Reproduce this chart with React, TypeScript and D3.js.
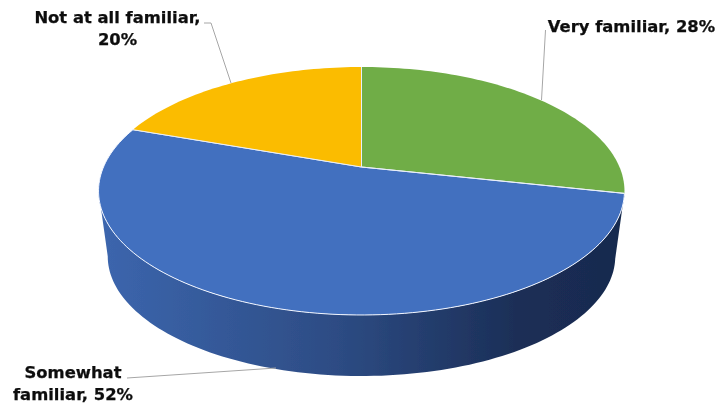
import React from "react";
import * as d3 from "d3";

const categories = ["Very familiar", "Somewhat familiar", "Not at all familiar"];
const values = [28.4, 52, 19.6];
const colors = ["#70AD47", "#4270BF", "#FBBC00"];
const labelLines = [["Very familiar, 28%"], ["Somewhat", "familiar, 52%"], ["Not at all familiar,", "20%"]];

const W = 717, H = 406;
const cx = 361.5, apexY = 167, A = 258, B = 119.35, K = -0.1935;
const wallScale = 0.965, wallApexY = 233.2;

const labelLayout = [
  { x: 631.5, y: 32, leader: [[545.5, 30], [541.5, 100]] },
  { x: 73, y: 378, leader: [[127, 378], [276, 368]] },
  { x: 117.5, y: 23, leader: [[204, 23], [211, 23], [231, 83]] },
];

function project(theta: number, scale = 1, y0 = apexY): [number, number] {
  const u = Math.sin(theta), v = -Math.cos(theta);
  const d = 1 + K * v;
  return [cx + (scale * A * u) / d, y0 + (scale * B * v) / d];
}

function rim(a0: number, a1: number, scale = 1, y0 = apexY): [number, number][] {
  const n = Math.max(2, Math.ceil(Math.abs(a1 - a0) * 40));
  return d3.range(n + 1).map((i) => project(a0 + ((a1 - a0) * i) / n, scale, y0));
}

const line = d3.line();

export default function App() {
  const arcs = d3.pie<number>().sort(null)(values);
  const blue = arcs[1];
  // the wall ends where the rim is at its leftmost
  const wallEnd = Math.min(blue.endAngle, 2 * Math.PI - Math.acos(K));
  const wall = [
    ...rim(blue.startAngle, wallEnd),
    ...rim(wallEnd, blue.startAngle, wallScale, wallApexY),
  ];
  return (
    <svg width={W} height={H} viewBox={`0 0 ${W} ${H}`} style={{ position: "absolute", left: 0, top: 0, background: "#fff" }}>
      <defs>
        <linearGradient id="wall" gradientUnits="userSpaceOnUse" x1={cx - 263} x2={cx + 264} y1={0} y2={0}>
          <stop offset="0" stopColor="#3c66ae" />
          <stop offset="0.45" stopColor="#2d4c84" />
          <stop offset="0.8" stopColor="#1b2e56" />
          <stop offset="1" stopColor="#182a4e" />
        </linearGradient>
        <filter id="soft" x="-5%" y="-5%" width="110%" height="110%">
          <feGaussianBlur stdDeviation="0.45" />
        </filter>
      </defs>
      <g filter="url(#soft)">
        <path d={line(wall)!} fill="url(#wall)" />
        {arcs.map((a, i) => {
          const pts: [number, number][] = [[cx, apexY], ...rim(a.startAngle, a.endAngle)];
          return <path key={categories[i]} d={line(pts)! + "Z"} fill={colors[i]} stroke={i === 1 ? "#f2f6ff" : "none"} strokeWidth={i === 1 ? 1 : 0} strokeLinejoin="round" />;
        })}
        {arcs.map((a, i) => (
          <path key={i} d={line([[cx, apexY], project(a.startAngle)])!} stroke="#e8eef8" strokeWidth={1} fill="none" />
        ))}
        {labelLayout.map((l, i) => (
          <path key={i} d={line(l.leader as [number, number][])!} fill="none" stroke="#a6a6a6" strokeWidth={1} />
        ))}
        {labelLines.map((lines, i) => (
          <text key={i} textAnchor="middle" fontFamily="'DejaVu Sans', sans-serif" fontWeight="bold" fontSize={16.4} fill="#0d0d0d" stroke="#0d0d0d" strokeWidth={0.25}>
            {lines.map((t, j) => (
              <tspan key={j} x={labelLayout[i].x} y={labelLayout[i].y + j * 22}>{t}</tspan>
            ))}
          </text>
        ))}
      </g>
    </svg>
  );
}
